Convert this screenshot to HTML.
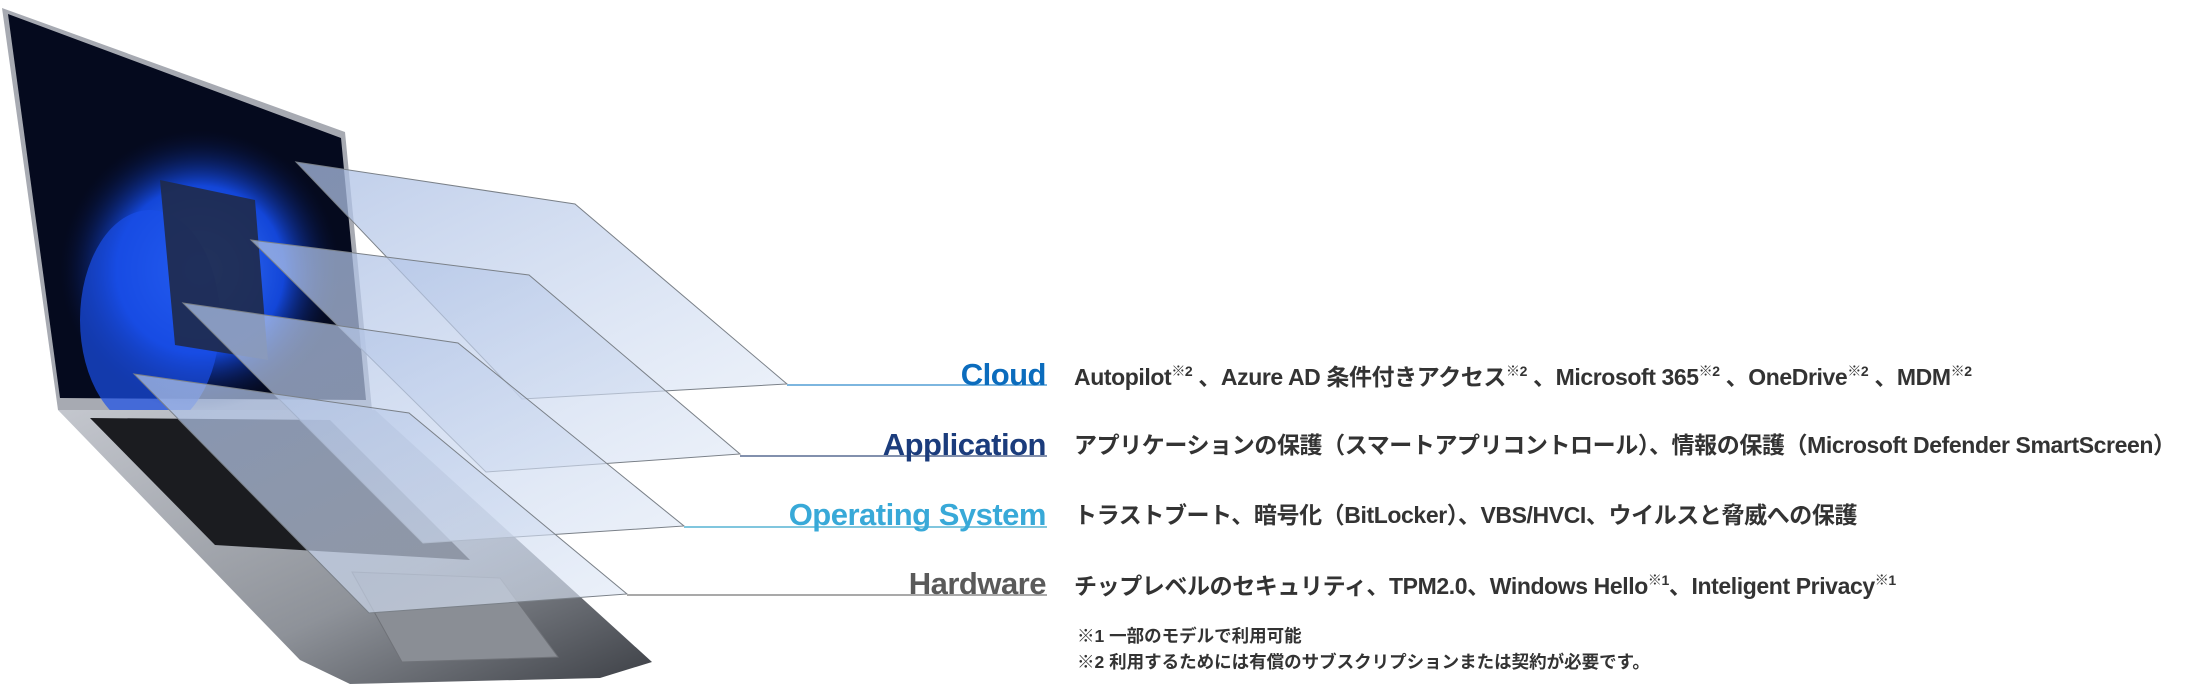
<!DOCTYPE html>
<html><head><meta charset="utf-8"><style>
html,body{margin:0;padding:0;background:#fff;}
body{width:2211px;height:687px;position:relative;overflow:hidden;font-family:"Liberation Sans","Noto Sans CJK JP",sans-serif;}
.lbl{position:absolute;right:1165px;font-weight:bold;font-size:31px;letter-spacing:-0.5px;white-space:nowrap;line-height:1;}
.desc{position:absolute;left:1074px;font-weight:bold;font-size:23px;color:#333;white-space:nowrap;line-height:1;font-family:"Liberation Sans","Noto Sans CJK JP",sans-serif;letter-spacing:-0.4px;}
sup{font-size:14px;vertical-align:9px;font-weight:bold;}
.note{position:absolute;left:1077px;font-size:17.5px;font-weight:bold;color:#333;white-space:nowrap;font-family:"Liberation Sans","Noto Sans CJK JP",sans-serif;}
</style></head><body>
<svg width="2211" height="687" style="position:absolute;left:0;top:0">
<defs>
<linearGradient id="pl" x1="0" y1="0" x2="1" y2="1">
<stop offset="0" stop-color="#a9bde3" stop-opacity="0.75"/>
<stop offset="1" stop-color="#dfe8f6" stop-opacity="0.6"/>
</linearGradient>
<linearGradient id="base" x1="0" y1="0" x2="1" y2="1">
<stop offset="0" stop-color="#c4c7ce"/><stop offset="0.6" stop-color="#8e9299"/><stop offset="1" stop-color="#3c3f45"/>
</linearGradient>
<radialGradient id="blu" cx="0.5" cy="0.5" r="0.5">
<stop offset="0" stop-color="#3d7bff"/><stop offset="0.6" stop-color="#1346d8"/><stop offset="1" stop-color="#06103a" stop-opacity="0"/>
</radialGradient>
</defs>
<polygon points="2,8 345,132 372,410 58,410" fill="#a7aab2"/>
<polygon points="8,14 341,138 366,400 60,398" fill="#050a1e"/>
<ellipse cx="200" cy="270" rx="140" ry="140" fill="url(#blu)"/>
<ellipse cx="150" cy="320" rx="70" ry="110" fill="#1a4fe8" opacity="0.7"/>
<polygon points="160,180 255,200 268,360 175,345" fill="#1f2a4a" opacity="0.9"/>
<polygon points="58,410 375,410 652,662 600,678 350,684 300,660" fill="url(#base)"/>
<polygon points="90,418 330,420 470,560 215,545" fill="#1b1c20"/>
<polygon points="352,572 500,578 558,657 402,662" fill="#8a8e95" stroke="#6f7278"/>
<polygon points="296,162 575,204 787,384 522,399" fill="url(#pl)" stroke="#7a8088" stroke-width="1"/>
<polygon points="251,240 529,275 740,454 486,472" fill="url(#pl)" stroke="#7a8088" stroke-width="1"/>
<polygon points="183,303 458,343 684,526 423,543" fill="url(#pl)" stroke="#7a8088" stroke-width="1"/>
<polygon points="134,374 409,413 627,594 369,613" fill="url(#pl)" stroke="#7a8088" stroke-width="1"/>
<line x1="787" y1="385" x2="1047" y2="385" stroke="#7db6df" stroke-width="2"/>
<line x1="740" y1="456" x2="1047" y2="456" stroke="#8290ad" stroke-width="2"/>
<line x1="684" y1="527" x2="1047" y2="527" stroke="#80c6de" stroke-width="2"/>
<line x1="627" y1="595" x2="1047" y2="595" stroke="#a9a9a9" stroke-width="2"/>
</svg>
<div class="lbl" style="top:359px;color:#0b6cbd">Cloud</div>
<div class="lbl" style="top:429px;color:#1b3c7c">Application</div>
<div class="lbl" style="top:499px;color:#38a9d8">Operating System</div>
<div class="lbl" style="top:568px;color:#5a5a5a">Hardware</div>
<div class="desc" style="top:364px">Autopilot<sup>※2</sup> 、Azure AD 条件付きアクセス<sup>※2</sup> 、Microsoft 365<sup>※2</sup> 、OneDrive<sup>※2</sup> 、MDM<sup>※2</sup></div>
<div class="desc" style="top:434px">アプリケーションの保護（スマートアプリコントロール）、情報の保護（Microsoft Defender SmartScreen）</div>
<div class="desc" style="top:504px">トラストブート、暗号化（BitLocker）、VBS/HVCI、ウイルスと脅威への保護</div>
<div class="desc" style="top:573px">チップレベルのセキュリティ、TPM2.0、Windows Hello<sup>※1</sup>、Inteligent Privacy<sup>※1</sup></div>
<div class="note" style="top:623px">※1 一部のモデルで利用可能</div>
<div class="note" style="top:649px">※2 利用するためには有償のサブスクリプションまたは契約が必要です。</div>
</body></html>
